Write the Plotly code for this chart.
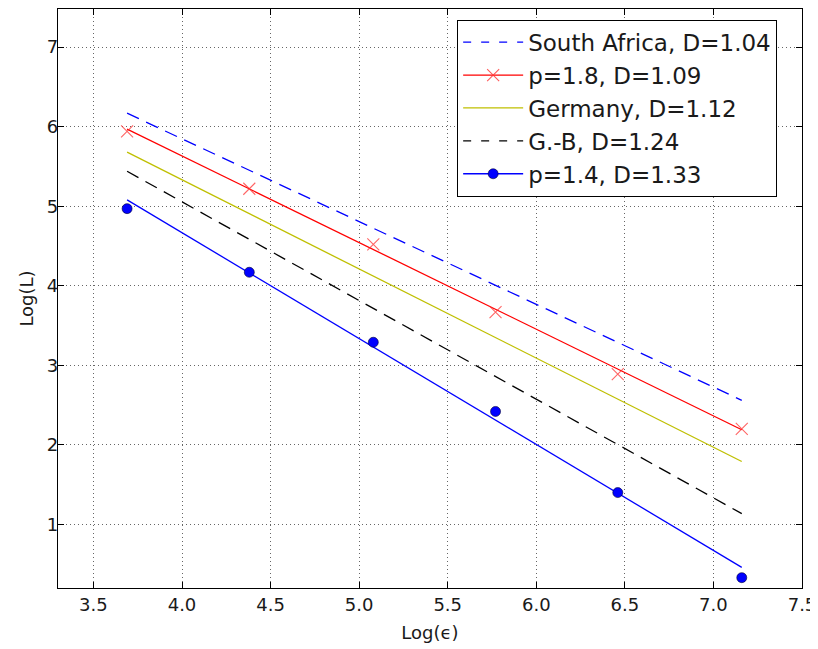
import plotly.graph_objects as go

# ---- data ----
x_data = [3.69, 4.38, 5.08, 5.77, 6.46, 7.16]
p18_data = [5.94, 5.22, 4.52, 3.67, 2.89, 2.20]
p14_data = [4.97, 4.17, 3.29, 2.42, 1.40, 0.33]

x_fit = [3.69, 7.16]
south_africa_fit = [6.17, 2.56]
p18_fit = [5.97, 2.19]
germany_fit = [5.68, 1.79]
gb_fit = [5.44, 1.135]
p14_fit = [5.08, 0.46]

x_ticks = [3.5, 4.0, 4.5, 5.0, 5.5, 6.0, 6.5, 7.0, 7.5]
y_ticks = [1, 2, 3, 4, 5, 6, 7]

names = ["South Africa, D=1.04", "p=1.8, D=1.09", "Germany, D=1.12",
         "G.-B, D=1.24", "p=1.4, D=1.33"]

FONT = "DejaVu Sans"
BLUE = "#0000ff"
RED = "#ff0000"
YEL = "#bfbf00"
BLK = "#000000"
DASH = "13px,8px"
LW = 1.3

fig = go.Figure()

# actual lines / markers (not in legend)
fig.add_trace(go.Scatter(x=x_fit, y=south_africa_fit, mode="lines",
                         line=dict(color=BLUE, width=LW, dash=DASH), showlegend=False))
fig.add_trace(go.Scatter(x=x_fit, y=p18_fit, mode="lines",
                         line=dict(color=RED, width=LW), showlegend=False))
fig.add_trace(go.Scatter(x=x_data, y=p18_data, mode="markers",
                         marker=dict(symbol="x-thin", size=12, color="rgba(255,0,0,0.6)",
                                     line=dict(color="rgba(255,50,50,0.75)", width=1.1)),
                         showlegend=False))
fig.add_trace(go.Scatter(x=x_fit, y=germany_fit, mode="lines",
                         line=dict(color=YEL, width=LW), showlegend=False))
fig.add_trace(go.Scatter(x=x_fit, y=gb_fit, mode="lines",
                         line=dict(color=BLK, width=LW, dash=DASH), showlegend=False))
fig.add_trace(go.Scatter(x=x_fit, y=p14_fit, mode="lines",
                         line=dict(color=BLUE, width=LW), showlegend=False))
fig.add_trace(go.Scatter(x=x_data, y=p14_data, mode="markers",
                         marker=dict(symbol="circle", size=10, color=BLUE,
                                     line=dict(color="#000033", width=0.6)),
                         showlegend=False))

# legend entries
fig.add_trace(go.Scatter(x=[None], y=[None], mode="lines", name=names[0],
                         line=dict(color=BLUE, width=LW, dash="8px,10px")))
fig.add_trace(go.Scatter(x=[None], y=[None], mode="lines+markers", name=names[1],
                         line=dict(color=RED, width=LW),
                         marker=dict(symbol="x-thin", size=12,
                                     line=dict(color="rgba(255,50,50,0.8)", width=1.1))))
fig.add_trace(go.Scatter(x=[None], y=[None], mode="lines", name=names[2],
                         line=dict(color=YEL, width=LW)))
fig.add_trace(go.Scatter(x=[None], y=[None], mode="lines", name=names[3],
                         line=dict(color=BLK, width=LW, dash="8px,10px")))
fig.add_trace(go.Scatter(x=[None], y=[None], mode="lines+markers", name=names[4],
                         line=dict(color=BLUE, width=LW),
                         marker=dict(symbol="circle", size=10, color=BLUE,
                                     line=dict(color="#000033", width=0.6))))

axis_common = dict(
    showline=True, linecolor="black", linewidth=1.3, mirror="ticks",
    ticks="inside", ticklen=6, tickwidth=1, tickcolor="black",
    showgrid=True, gridcolor="#666666", gridwidth=1, griddash="1px,3px",
    zeroline=False, automargin=False,
    tickfont=dict(family=FONT, size=18, color="#1a1a1a"),
)

fig.update_xaxes(range=[3.3, 7.5], tickvals=x_ticks,
                 ticktext=[f"{v:.1f}" for v in x_ticks],
                 title=dict(text="Log(ϵ)", font=dict(family=FONT, size=18, color="#1a1a1a"),
                            standoff=12),
                 **axis_common)
fig.update_yaxes(range=[0.2, 7.48], tickvals=y_ticks,
                 ticktext=[str(v) for v in y_ticks],
                 ticklabelstandoff=-5,
                 title=dict(text="Log(L)", font=dict(family=FONT, size=18, color="#1a1a1a"),
                            standoff=8),
                 **axis_common)

fig.update_layout(
    width=810, height=641,
    margin=dict(l=50, r=16, t=1, b=61),
    paper_bgcolor="white", plot_bgcolor="white",
    font=dict(family=FONT, color="#1a1a1a"),
    legend=dict(x=0.5365, y=0.9815, xanchor="left", yanchor="top",
                bgcolor="white", bordercolor="black", borderwidth=1,
                font=dict(family=FONT, size=23, color="#1a1a1a"),
                itemwidth=60, tracegroupgap=0),
)

fig.write_html("out.html")
